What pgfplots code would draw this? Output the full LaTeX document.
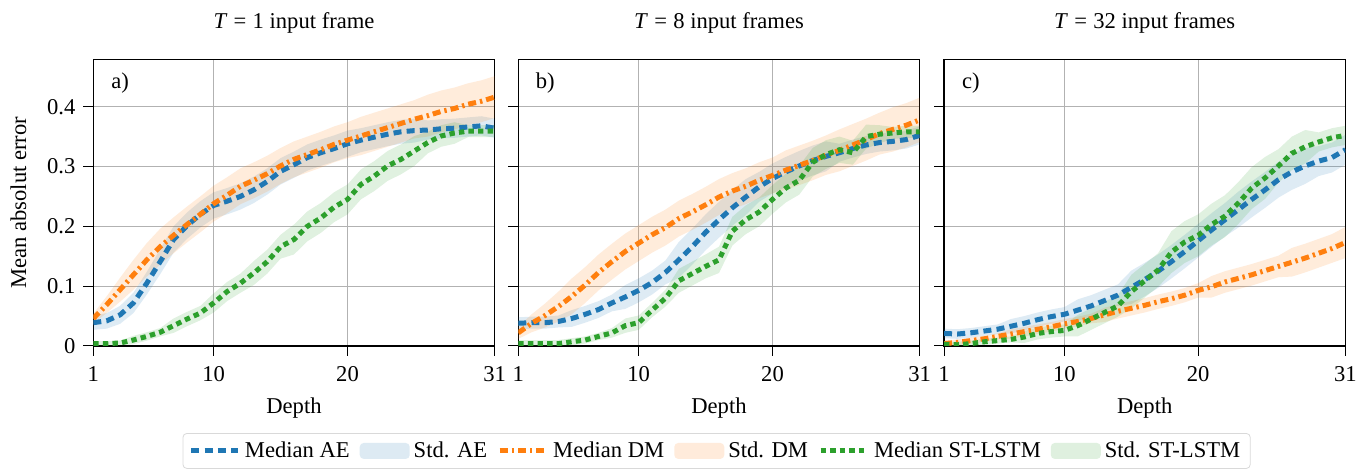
\documentclass[border=0pt]{standalone}
\usepackage{fontspec}
\setmainfont{Liberation Serif}
\usepackage{pgfplots}
\usepackage{pgfplotstable}
\pgfplotsset{compat=1.18}
\usepgfplotslibrary{fillbetween}

\definecolor{cAE}{RGB}{31,119,180}
\definecolor{cDM}{RGB}{255,127,14}
\definecolor{cST}{RGB}{44,160,44}

% columns: depth, median, lower and upper edge of the std band
\pgfplotstableread{
d m lo hi
1 .039 .027 .051
2 .042 .029 .055
3 .052 .037 .067
4 .072 .055 .089
5 .105 .086 .124
6 .141 .120 .162
7 .178 .156 .200
8 .201 .179 .223
9 .220 .198 .242
10 .235 .213 .257
11 .242 .220 .264
12 .250 .228 .272
13 .261 .239 .283
14 .275 .253 .297
15 .292 .270 .314
16 .303 .281 .325
17 .315 .293 .337
18 .323 .301 .345
19 .330 .308 .352
20 .338 .316 .360
21 .344 .324 .364
22 .349 .329 .369
23 .354 .334 .374
24 .358 .338 .378
25 .360 .340 .380
26 .361 .345 .377
27 .363 .347 .379
28 .364 .348 .380
29 .366 .350 .382
30 .368 .352 .384
31 .364 .348 .380
}\aAE
\pgfplotstableread{
d m lo hi
1 .046 .038 .054
2 .069 .055 .083
3 .094 .074 .114
4 .119 .094 .144
5 .144 .116 .172
6 .166 .136 .196
7 .185 .155 .215
8 .203 .173 .233
9 .220 .190 .250
10 .238 .208 .268
11 .252 .222 .282
12 .267 .237 .297
13 .277 .247 .307
14 .288 .258 .318
15 .301 .271 .331
16 .312 .282 .342
17 .320 .290 .350
18 .328 .298 .358
19 .337 .307 .367
20 .344 .314 .374
21 .351 .319 .383
22 .358 .326 .390
23 .365 .333 .397
24 .372 .340 .404
25 .379 .347 .411
26 .385 .350 .420
27 .392 .357 .427
28 .397 .362 .432
29 .404 .369 .439
30 .409 .374 .444
31 .416 .381 .451
}\aDM
\pgfplotstableread{
d m lo hi
1 .004 .000 .008
2 .004 .000 .008
3 .005 .001 .009
4 .010 .003 .017
5 .016 .009 .023
6 .023 .016 .030
7 .034 .022 .046
8 .045 .033 .057
9 .055 .043 .067
10 .072 .056 .088
11 .091 .075 .107
12 .105 .089 .121
13 .122 .102 .142
14 .141 .121 .161
15 .166 .146 .186
16 .178 .153 .203
17 .200 .175 .225
18 .214 .189 .239
19 .232 .207 .257
20 .245 .220 .270
21 .270 .245 .295
22 .284 .259 .309
23 .301 .276 .326
24 .312 .287 .337
25 .326 .301 .351
26 .340 .322 .358
27 .351 .333 .369
28 .356 .338 .374
29 .359 .349 .369
30 .359 .349 .369
31 .359 .349 .369
}\aST
\pgfplotstableread{
d m lo hi
1 .038 .028 .048
2 .039 .029 .049
3 .039 .029 .049
4 .041 .031 .051
5 .046 .032 .060
6 .053 .039 .067
7 .061 .047 .075
8 .072 .058 .086
9 .082 .062 .102
10 .093 .073 .113
11 .106 .086 .126
12 .123 .103 .143
13 .144 .114 .174
14 .166 .136 .196
15 .190 .160 .220
16 .211 .181 .241
17 .231 .201 .261
18 .249 .219 .279
19 .266 .241 .291
20 .280 .255 .305
21 .291 .266 .316
22 .301 .276 .326
23 .310 .285 .335
24 .317 .292 .342
25 .323 .308 .338
26 .330 .315 .345
27 .336 .321 .351
28 .340 .325 .355
29 .342 .327 .357
30 .345 .330 .360
31 .352 .337 .367
}\bAE
\pgfplotstableread{
d m lo hi
1 .022 .012 .032
2 .038 .023 .053
3 .051 .031 .071
4 .066 .041 .091
5 .083 .053 .113
6 .102 .072 .132
7 .123 .093 .153
8 .141 .111 .171
9 .158 .128 .188
10 .172 .142 .202
11 .186 .156 .216
12 .198 .168 .228
13 .213 .183 .243
14 .224 .194 .254
15 .236 .206 .266
16 .249 .219 .279
17 .259 .229 .289
18 .267 .237 .297
19 .277 .247 .307
20 .285 .255 .315
21 .294 .261 .327
22 .302 .269 .335
23 .310 .277 .343
24 .319 .286 .352
25 .327 .292 .362
26 .336 .301 .371
27 .345 .310 .380
28 .355 .320 .390
29 .362 .325 .399
30 .369 .332 .406
31 .378 .341 .415
}\bDM
\pgfplotstableread{
d m lo hi
1 .004 .000 .010
2 .004 .000 .010
3 .004 .000 .010
4 .004 .000 .010
5 .007 .001 .013
6 .010 .004 .016
7 .016 .010 .022
8 .022 .014 .030
9 .034 .022 .046
10 .039 .027 .051
11 .060 .048 .072
12 .080 .066 .094
13 .109 .089 .129
14 .121 .101 .141
15 .133 .113 .153
16 .144 .122 .166
17 .192 .168 .216
18 .211 .187 .235
19 .224 .200 .248
20 .245 .221 .269
21 .264 .240 .288
22 .277 .253 .301
23 .307 .283 .331
24 .320 .296 .344
25 .328 .306 .350
26 .323 .303 .343
27 .350 .330 .370
28 .354 .339 .369
29 .356 .346 .366
30 .358 .348 .368
31 .358 .348 .368
}\bST
\pgfplotstableread{
d m lo hi
1 .021 .013 .029
2 .020 .012 .028
3 .022 .014 .030
4 .025 .017 .033
5 .028 .020 .036
6 .033 .021 .045
7 .038 .026 .050
8 .044 .032 .056
9 .049 .037 .061
10 .053 .041 .065
11 .060 .042 .078
12 .067 .049 .085
13 .076 .058 .094
14 .085 .067 .103
15 .098 .070 .126
16 .111 .083 .139
17 .125 .097 .153
18 .141 .113 .169
19 .158 .130 .186
20 .176 .148 .204
21 .194 .166 .222
22 .211 .183 .239
23 .228 .198 .258
24 .245 .215 .275
25 .261 .231 .291
26 .278 .248 .308
27 .291 .261 .321
28 .301 .271 .331
29 .309 .284 .334
30 .315 .290 .340
31 .328 .303 .353
}\cAE
\pgfplotstableread{
d m lo hi
1 .004 .000 .009
2 .006 .001 .011
3 .009 .004 .014
4 .012 .007 .017
5 .016 .011 .021
6 .020 .012 .028
7 .024 .016 .032
8 .028 .020 .036
9 .032 .024 .040
10 .037 .029 .045
11 .041 .033 .049
12 .046 .038 .054
13 .052 .040 .064
14 .058 .046 .070
15 .063 .051 .075
16 .068 .056 .080
17 .074 .062 .086
18 .079 .067 .091
19 .085 .073 .097
20 .093 .081 .105
21 .099 .081 .117
22 .107 .089 .125
23 .113 .095 .131
24 .119 .101 .137
25 .126 .108 .144
26 .133 .115 .151
27 .140 .116 .164
28 .147 .123 .171
29 .155 .131 .179
30 .163 .139 .187
31 .173 .147 .199
}\cDM
\pgfplotstableread{
d m lo hi
1 .003 .000 .008
2 .002 .000 .007
3 .004 .000 .009
4 .007 .002 .012
5 .009 .004 .014
6 .011 .006 .016
7 .015 .005 .025
8 .021 .011 .031
9 .024 .014 .034
10 .026 .016 .036
11 .034 .016 .052
12 .045 .027 .063
13 .056 .038 .074
14 .067 .049 .085
15 .091 .063 .119
16 .109 .081 .137
17 .127 .099 .155
18 .157 .122 .192
19 .174 .139 .209
20 .185 .150 .220
21 .203 .168 .238
22 .217 .182 .252
23 .239 .204 .274
24 .264 .229 .299
25 .281 .246 .316
26 .301 .273 .329
27 .322 .294 .350
28 .333 .305 .361
29 .341 .325 .357
30 .348 .332 .364
31 .352 .336 .368
}\cST

\pgfplotsset{
  medlegend/.style={legend image code/.code={\draw[##1] (0pt,0pt) -- (23.5pt,0pt);}},
  stdlegend/.style={legend image code/.code={\fill[##1] (0pt,-4pt) rectangle (25pt,4pt);}},
  medAE/.style={cAE, line width=2.5pt, dash pattern=on 4pt off 2.6pt},
  medDM/.style={cDM, line width=2.5pt, dash pattern=on 4pt off 2pt on 1.2pt off 2pt},
  medST/.style={cST, line width=2.5pt, dash pattern=on 2.7pt off 2.1pt},
  panel/.style={
    width=200.7pt, height=143.3pt, scale only axis,
    xmin=1, xmax=31, ymin=0, ymax=0.479,
    xtick={1,10,20,31}, ytick={0,0.1,0.2,0.3,0.4},
    tick pos=left, tick align=outside, major tick length=5pt,
    tick style={black, line width=0.5pt},
    xticklabel shift=1.5pt, yticklabel shift=0pt,
    grid=major, major grid style={black!30, line width=0.5pt},
    axis line style={black, line width=0.6pt},
    xlabel={Depth},
    xlabel style={at={([yshift=-31pt]axis description cs:0.5,0)}, anchor=center},
    ylabel style={at={([xshift=-37.5pt]axis description cs:0,0.5)}, anchor=center},
    title style={at={([yshift=12pt]axis description cs:0.5,1)}, anchor=center, yshift=0pt},
    /pgf/number format/assume math mode=true,
  },
}

% each median line is drawn before its band, as in the reference
\newcommand{\panelplots}[4]{%
  \addplot[medAE, forget plot] table[x=d, y=m]{#1};
  \addplot[name path=#4aU, draw=none, forget plot] table[x=d, y=hi]{#1};
  \addplot[name path=#4aL, draw=none, forget plot] table[x=d, y=lo]{#1};
  \addplot[fill=cAE, fill opacity=0.15, draw=none, forget plot] fill between[of=#4aU and #4aL];
  \addplot[medDM, forget plot] table[x=d, y=m]{#2};
  \addplot[name path=#4dU, draw=none, forget plot] table[x=d, y=hi]{#2};
  \addplot[name path=#4dL, draw=none, forget plot] table[x=d, y=lo]{#2};
  \addplot[fill=cDM, fill opacity=0.15, draw=none, forget plot] fill between[of=#4dU and #4dL];
  \addplot[medST, forget plot] table[x=d, y=m]{#3};
  \addplot[name path=#4sU, draw=none, forget plot] table[x=d, y=hi]{#3};
  \addplot[name path=#4sL, draw=none, forget plot] table[x=d, y=lo]{#3};
  \addplot[fill=cST, fill opacity=0.15, draw=none, forget plot] fill between[of=#4sU and #4sL];
}

\begin{document}
\fontsize{11.3}{13.5}\selectfont
\begin{tikzpicture}
\begin{axis}[panel, title={\textit{T}\;=\;1 input frame}, ylabel={Mean absolut error}]
  \panelplots{\aAE}{\aDM}{\aST}{pa}
  \node at (rel axis cs:0.067,0.917) {a)};
\end{axis}

\begin{axis}[panel, at={(212.5pt,0pt)}, title={\textit{T}\;=\;8 input frames}, yticklabels={},
  legend columns=6,
  legend style={at={(0.494,-0.3036)}, anchor=north, draw=black!15, rounded corners=2pt,
    /tikz/every even column/.append style={column sep=3pt}, cells={anchor=west}}]
  \addlegendimage{medAE, medlegend}\addlegendentry{Median AE}
  \addlegendimage{fill=cAE, fill opacity=0.15, draw=none, stdlegend}\addlegendentry{Std. AE}
  \addlegendimage{medDM, medlegend}\addlegendentry{Median DM}
  \addlegendimage{fill=cDM, fill opacity=0.15, draw=none, stdlegend}\addlegendentry{Std. DM}
  \addlegendimage{medST, medlegend}\addlegendentry{Median ST-LSTM}
  \addlegendimage{fill=cST, fill opacity=0.15, draw=none, stdlegend}\addlegendentry{Std. ST-LSTM}
  \panelplots{\bAE}{\bDM}{\bST}{pb}
  \node at (rel axis cs:0.067,0.917) {b)};
\end{axis}

\begin{axis}[panel, at={(425.35pt,0pt)}, title={\textit{T}\;=\;32 input frames}, yticklabels={}]
  \panelplots{\cAE}{\cDM}{\cST}{pc}
  \node at (rel axis cs:0.067,0.917) {c)};
\end{axis}
% page size of the reference: margins round the panels
\pgfresetboundingbox
\path[use as bounding box] (-46.65pt,-62pt) rectangle (635.35pt,173pt);
\end{tikzpicture}
\end{document}
